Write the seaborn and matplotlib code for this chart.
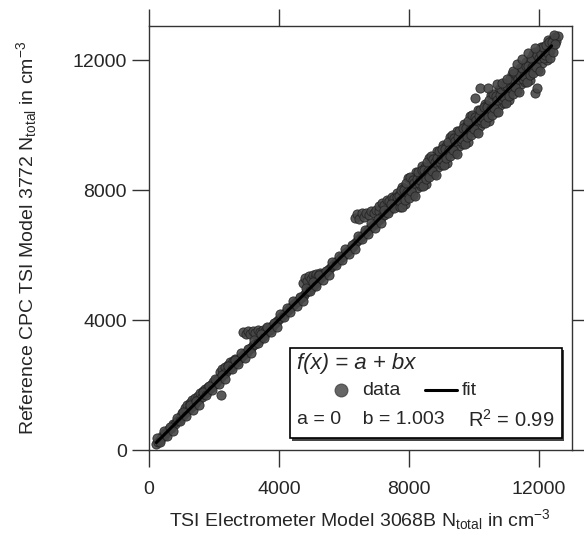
import numpy as np
import pandas as pd
import matplotlib
matplotlib.use("Agg")
import matplotlib.pyplot as plt
import seaborn as sns
from matplotlib.patches import Rectangle
from matplotlib.lines import Line2D

# values (cm^-3)
electrometer = [
    230, 290, 340, 400, 450, 510, 570, 630, 690, 750, 810, 870, 930, 990,
    1020, 1060, 1100, 1140, 1180, 1220, 1260, 1300, 1340, 1380, 1420, 1460, 1500, 1540,
    1580, 1620, 1660, 1700, 1740, 1780, 1820, 1860, 1900, 1940, 1980, 2020, 2060, 2100,
    2230,
    2140, 2180, 2220, 2260, 2300, 2340, 2380, 2420, 2460, 2500, 2540, 2580, 2620, 2660,
    2700, 2750, 2800, 2850,
    2900, 2960, 3020, 3080, 3140, 3200, 3260, 3320, 3380, 3440, 3500, 3560, 3620, 3680,
    3740, 3800, 3860, 3920, 3980,
    2900, 2980, 3050, 3120, 3200, 3280, 3350, 3430, 3500, 3580, 3650, 3720, 3800,
    4050, 4110, 4170, 4230, 4290, 4350, 4410, 4470, 4530, 4590, 4650, 4710,
    4750, 4800, 4860, 4920, 4980, 5040, 5100, 5160, 5220, 5280, 5340,
    4770, 4830, 4890, 4950, 5010, 5070, 5130, 5190, 5250, 5310, 5370, 5430, 5490, 5550,
    5610, 5670, 5730, 5790, 5850, 5910, 5970, 6030, 6090, 6150, 6210, 6270,
    6350, 6420, 6480, 6550, 6620, 6700, 6770, 6850, 6920, 7000, 7080,
    7100, 7180, 7250, 7330, 7400, 7480, 7550, 7630, 7700, 7780, 7860,
    6330, 6390, 6450, 6510, 6570, 6630, 6690, 6750, 6810, 6870, 6930, 6990, 7050, 7110,
    7170, 7230, 7290, 7350, 7410, 7470, 7530, 7590, 7650,
    250, 350, 450, 550, 650, 750, 850, 950, 1050, 1150, 1250, 1350, 1450, 1550,
    1650, 1750, 1850, 1950, 2050, 2150, 2250, 2350, 2450, 2550, 2650, 2750, 2850, 2950,
    3050, 3150, 3250, 3350, 3450, 3550, 3650, 3750, 3850, 3950, 4050, 4150, 4250, 4350,
    4450, 4550, 4650, 4750, 4850, 4950, 5050, 5150, 5250, 5350, 5450, 5550, 5650, 5750,
    5850, 5950, 6050, 6150, 6250, 6350, 6450, 6550, 6650, 6750, 6850, 6950, 7050, 7150,
    7250, 7350, 7450, 7550, 7650,
    7700, 7740, 7780, 7820, 7860, 7900, 7940, 7980, 8020, 8060, 8100, 8140, 8180, 8220,
    8260, 8300, 8340, 8380, 8420, 8460, 8500, 8540, 8580, 8620, 8660, 8700, 8740, 8780,
    8820, 8860, 8900, 8940, 8980, 9020, 9060, 9100, 9140, 9180, 9220, 9260, 9300, 9340,
    9380, 9420, 9460, 9500, 9540, 9580, 9620, 9660, 9700, 9740, 9780, 9820, 9860, 9900,
    9940, 9980, 10020, 10060, 10100, 10140, 10180, 10220, 10260, 10300, 10340, 10380,
    10420, 10460, 10500, 10540, 10580, 10620, 10660, 10700, 10740, 10780, 10820, 10860,
    10900, 10940, 10980, 11020, 11060, 11100, 11140, 11180, 11220, 11260, 11300, 11340,
    11380, 11420, 11460, 11500, 11540, 11580, 11620, 11660, 11700, 11740, 11780, 11820,
    11860, 11900, 11940, 11980, 12020, 12060, 12100, 12140, 12200, 12250, 12300, 12350,
    12400, 12450, 12500, 12550, 12600,
    7720, 7760, 7800, 7840, 7880, 7920, 7960, 8000, 8040, 8080, 8120, 8160, 8200, 8240,
    8280, 8320, 8360, 8400, 8440, 8480, 8520, 8560, 8600, 8640, 8680, 8720, 8760, 8800,
    8840, 8880, 8920, 8960, 9000, 9040, 9080, 9120, 9160, 9200, 9240, 9280, 9320, 9360,
    9400, 9440, 9480, 9520, 9560, 9600, 9640, 9680, 9720, 9760, 9800, 9840, 9880, 9920,
    9960, 10000, 10040, 10080, 10120, 10160, 10200, 10240, 10280, 10320, 10360, 10400,
    10440, 10480, 10520, 10560, 10600, 10640, 10680, 10720, 10760, 10800, 10840, 10880,
    10920, 10960, 11000, 11040, 11080, 11120, 11160, 11200, 11240, 11280, 11320, 11360,
    11400, 11440, 11480, 11520, 11560, 11600, 11640, 11680, 11720, 11760, 11800, 11840,
    11880, 11920, 11960, 12000, 12040, 12080, 12120, 12160, 12200, 12240, 12280, 12320,
    12360, 12400, 12440, 12480, 12520,
    10030, 10185, 10430, 10710, 10860, 11015, 11200, 11320, 11480, 11660, 11880,
    11880, 11950,
]
cpc = [
    190, 260, 300, 420, 430, 540, 560, 660, 680, 790, 800, 900, 920, 1040,
    1150, 1080, 1300, 1180, 1400, 1250, 1450, 1330, 1550, 1400, 1600, 1480, 1650, 1560,
    1750, 1640, 1820, 1720, 1880, 1790, 1950, 1870, 2000, 1950, 2100, 2030, 2150, 2110,
    1690,
    2180, 2400, 2260, 2480, 2330, 2560, 2400, 2620, 2490, 2700, 2560, 2750, 2640, 2800,
    2720, 2780, 2820, 2870,
    2910, 2980, 3030, 3100, 3150, 3220, 3270, 3340, 3390, 3460, 3510, 3580, 3630, 3700,
    3750, 3820, 3870, 3940, 3990,
    3620, 3560, 3660, 3580, 3650, 3600, 3680, 3620, 3700, 3660, 3740, 3700, 3800,
    4070, 4120, 4190, 4240, 4310, 4360, 4430, 4480, 4550, 4600, 4670, 4720,
    5150, 5280, 5200, 5350, 5250, 5400, 5300, 5420, 5350, 5450, 5420,
    4780, 4850, 4900, 4970, 5020, 5090, 5140, 5210, 5260, 5330, 5380, 5450, 5500, 5570,
    5620, 5690, 5740, 5810, 5860, 5930, 5980, 6050, 6100, 6170, 6220, 6290,
    7150, 7250, 7120, 7280, 7180, 7300, 7220, 7350, 7280, 7400, 7350,
    7520, 7600, 7550, 7700, 7650, 7800, 7750, 7900, 7850, 8000, 7950,
    6350, 6400, 6470, 6520, 6590, 6640, 6710, 6760, 6830, 6880, 6950, 7000, 7070, 7120,
    7190, 7240, 7310, 7360, 7430, 7480, 7550, 7600, 7670,
    360, 260, 600, 420, 710, 590, 980, 900, 1160, 1060, 1400, 1220, 1510, 1390,
    1780, 1700, 1960, 1860, 2200, 2020, 2310, 2190, 2580, 2500, 2760, 2660, 3000, 2820,
    3110, 2990, 3380, 3300, 3560, 3460, 3800, 3620, 3910, 3790, 4180, 4100, 4360, 4260,
    4600, 4420, 4710, 4590, 4980, 4900, 5160, 5060, 5400, 5220, 5510, 5390, 5780, 5700,
    5960, 5860, 6200, 6020, 6310, 6190, 6580, 6500, 6760, 6660, 7000, 6820, 7110, 6990,
    7380, 7300, 7560, 7460, 7800,
    7820, 7490, 8100, 7740, 8070, 7560, 7980, 8360, 7870, 8320, 8070, 7850, 8350, 8550,
    8060, 8390, 8460, 8130, 8740, 8380, 8710, 8200, 8620, 9000, 8510, 8960, 8710, 8490,
    8990, 9190, 8700, 9030, 9100, 8770, 9380, 9020, 9350, 8840, 9260, 9640, 9150, 9600,
    9350, 9130, 9630, 9830, 9340, 9670, 9740, 9410, 10020, 9660, 9990, 9480, 9900, 10280,
    9790, 10240, 9990, 9770, 10270, 10470, 9980, 10310, 10380, 10050, 10660, 10300,
    10630, 10120, 10540, 10920, 10430, 10880, 10630, 10410, 10910, 11110, 10620, 10950,
    11020, 10690, 11300, 10940, 11270, 10760, 11180, 11560, 11070, 11520, 11270, 11050,
    11550, 11750, 11260, 11590, 11660, 11330, 11940, 11580, 11910, 11400, 11820, 12200,
    11710, 12160, 11910, 11690, 12190, 12390, 11900, 12230, 12320, 12000, 12620, 12270,
    12610, 12450, 12700, 12580, 12750,
    7660, 7990, 7490, 7990, 7700, 8210, 7940, 7760, 8400, 7960, 8320, 8220, 7830, 8350,
    8550, 8230, 8300, 8630, 8130, 8630, 8340, 8850, 8580, 8400, 9040, 8600, 8960, 8860,
    8470, 8990, 9190, 8870, 8940, 9270, 8770, 9270, 8980, 9490, 9220, 9040, 9680, 9240,
    9600, 9500, 9110, 9630, 9830, 9510, 9580, 9910, 9410, 9910, 9620, 10130, 9860, 9680,
    10320, 9880, 10240, 10140, 9750, 10270, 10470, 10150, 10220, 10550, 10050, 10550,
    10260, 10770, 10500, 10320, 10960, 10520, 10880, 10780, 10390, 10910, 11110, 10790,
    10860, 11190, 10690, 11190, 10900, 11410, 11140, 10960, 11600, 11160, 11520, 11420,
    11030, 11550, 11750, 11430, 11500, 11830, 11330, 11830, 11540, 12050, 11780, 11600,
    12240, 11800, 12160, 12060, 11670, 12190, 12390, 12070, 12140, 12470, 12220, 12550,
    12050, 12550, 12260, 12770, 12500,
    10830, 11140, 11140, 11260, 11290, 11415, 11660, 11880, 12030, 12215, 12370,
    11000, 11150,
]

# fit f(x) = a + bx
fit_a = 0
fit_b = 1.003
fit_r2 = 0.99
fit_x = [230, 12400]
fit_y = [231, 12437]

df = pd.DataFrame({"electrometer": electrometer, "cpc": cpc})
fit_df = pd.DataFrame({"x": fit_x, "y": fit_y})

sns.set_theme(style="white")
plt.rcParams['font.family'] = ['Liberation Sans', 'DejaVu Sans']
plt.rcParams['mathtext.fontset'] = 'custom'
plt.rcParams['mathtext.rm'] = 'Liberation Sans'
plt.rcParams['mathtext.it'] = 'Liberation Sans:italic'

fig = plt.figure(figsize=(5.84, 5.39), dpi=100)
ax = fig.add_axes([0.255, 0.165, 0.724, 0.787])

sns.scatterplot(data=df, x="electrometer", y="cpc", ax=ax, s=44,
                color="#474747", edgecolor="#222222", linewidth=0.6,
                alpha=0.9, zorder=2, legend=False)
sns.lineplot(data=fit_df, x="x", y="y", ax=ax, color="black", lw=2.2,
             zorder=3, legend=False)

ax.set_xlim(0, 13020)
ax.set_ylim(0, 13050)
ticks = [0, 4000, 8000, 12000]
ax.set_xticks(ticks)
ax.set_yticks(ticks)
ax.tick_params(axis="both", which="both", direction="out", length=12, width=1,
               color="#333333", labelsize=14,
               top=True, right=True, bottom=True, left=True,
               labeltop=False, labelright=False)
ax.tick_params(axis="x", pad=10)
ax.tick_params(axis="y", pad=4)
for sp in ax.spines.values():
    sp.set_color("#333333")
    sp.set_linewidth(1.0)

ax.set_xlabel("TSI Electrometer Model 3068B N$_{\\mathrm{total}}$ in cm$^{-3}$",
              fontsize=14, labelpad=7)
ax.set_ylabel("Reference CPC TSI Model 3772 N$_{\\mathrm{total}}$ in cm$^{-3}$",
              fontsize=14, labelpad=24)

# legend box with shadow
sh = Rectangle((0.338, 0.022), 0.643, 0.213, transform=ax.transAxes,
               facecolor="#444444", edgecolor="none", zorder=4)
ax.add_patch(sh)
box = Rectangle((0.333, 0.028), 0.643, 0.213, transform=ax.transAxes,
                facecolor="white", edgecolor="black", lw=1.2, zorder=5)
ax.add_patch(box)
ax.text(0.350, 0.205, "f(x) = a + bx", transform=ax.transAxes, fontsize=16,
        style="italic", va="center", ha="left", zorder=6)
ax.add_line(Line2D([0.454], [0.1415], transform=ax.transAxes, marker="o",
                   markersize=9, color="#666666", markeredgecolor="#555555",
                   ls="none", zorder=6))
ax.text(0.504, 0.1415, "data", transform=ax.transAxes, fontsize=14,
        va="center", ha="left", zorder=6)
ax.add_line(Line2D([0.652, 0.728], [0.1415, 0.1415], transform=ax.transAxes,
                   color="black", lw=2.2, zorder=6))
ax.text(0.740, 0.1415, "fit", transform=ax.transAxes, fontsize=14,
        va="center", ha="left", zorder=6)
ax.text(0.350, 0.072, f"a = {fit_a}    b = {fit_b}", transform=ax.transAxes,
        fontsize=14, va="center", ha="left", zorder=6)
ax.text(0.754, 0.072, f"R$^2$ = {fit_r2}", transform=ax.transAxes,
        fontsize=14.5, va="center", ha="left", zorder=6)

fig.savefig("out.png", dpi=100)
